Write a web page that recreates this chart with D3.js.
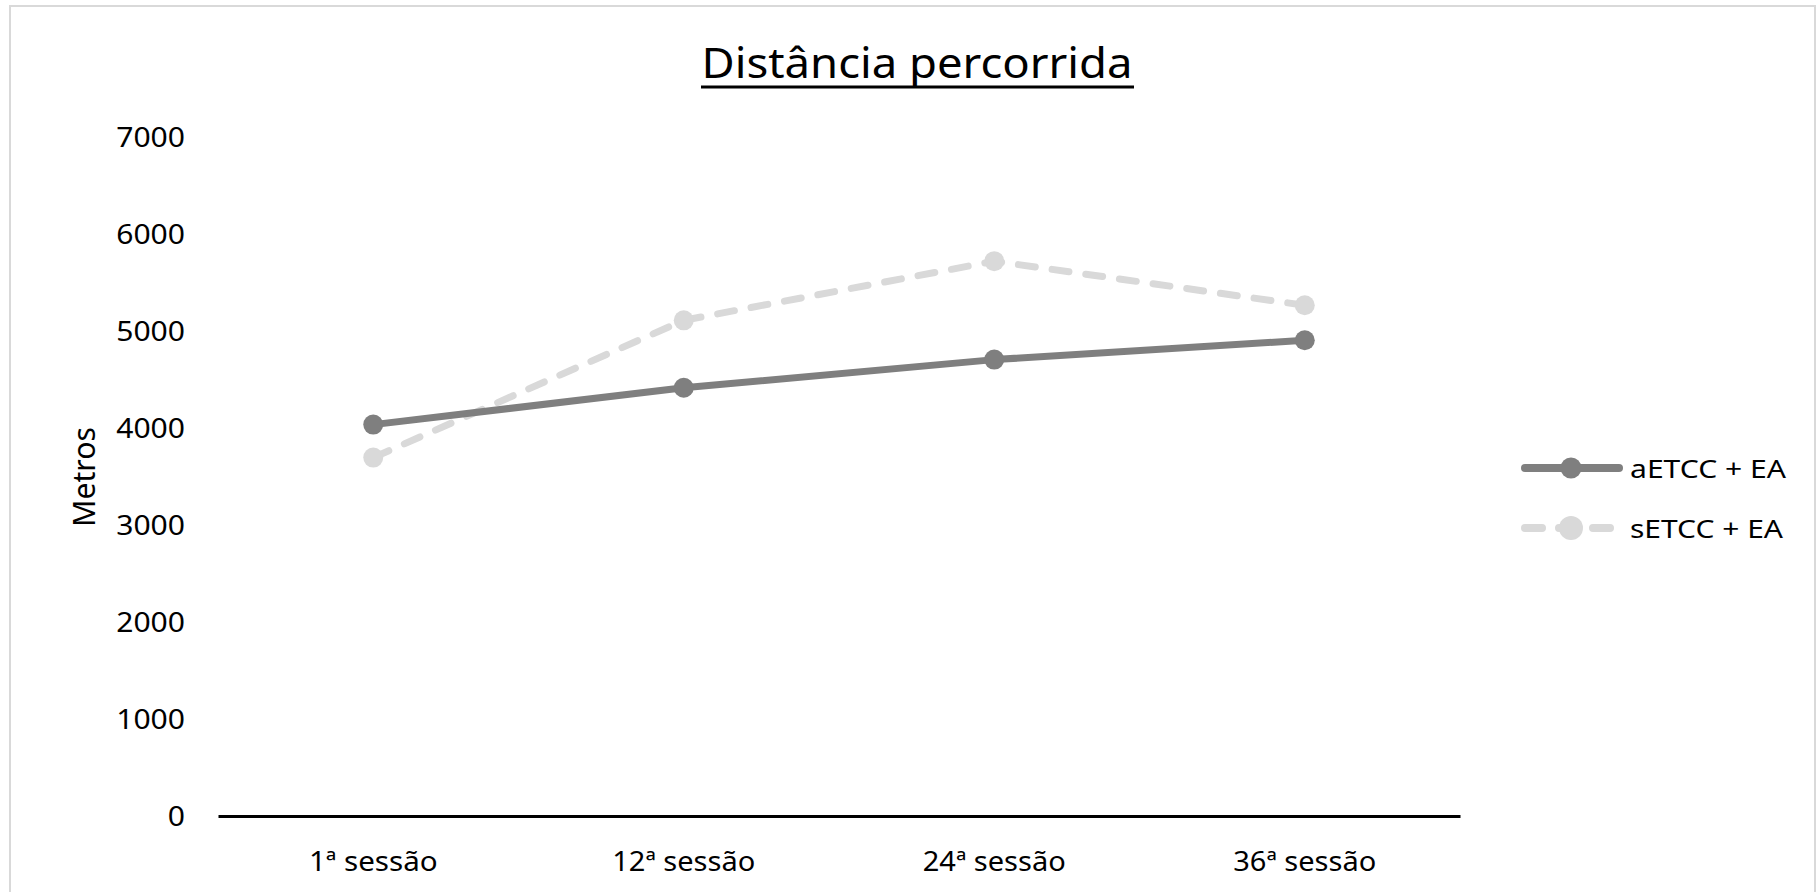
<!DOCTYPE html>
<html>
<head>
<meta charset="utf-8">
<script src="https://cdn.jsdelivr.net/npm/d3@7"></script>
<style>
  body { margin: 0; background: #fff; }
  text { font-family: "Noto Sans", "Open Sans", sans-serif; fill: #000; }
</style>
</head>
<body>
<script>
// data
const sessions = ["1ª sessão", "12ª sessão", "24ª sessão", "36ª sessão"];
const aETCC = [4035, 4415, 4705, 4905];
const sETCC = [3695, 5110, 5720, 5265];
const yTicks = [0, 1000, 2000, 3000, 4000, 5000, 6000, 7000];
const seriesNames = ["aETCC + EA", "sETCC + EA"];

const W = 1818, H = 892;
const svg = d3.select("body").append("svg")
  .attr("width", W).attr("height", H);

// chart frame
svg.append("rect")
  .attr("x", 10).attr("y", 6)
  .attr("width", 1805).attr("height", 900)
  .attr("fill", "#fff").attr("stroke", "#d9d9d9").attr("stroke-width", 2);

const x = d3.scaleBand().domain(sessions).range([218, 1460]);
const y = d3.scaleLinear().domain([0, 7000]).range([816, 137]);

// title, underlined
svg.append("text")
  .attr("x", 917).attr("y", 78)
  .attr("text-anchor", "middle")
  .attr("font-size", 42)
  .attr("textLength", 431).attr("lengthAdjust", "spacingAndGlyphs")
  .text("Distância percorrida");
svg.append("line")
  .attr("x1", 701).attr("x2", 1134).attr("y1", 87).attr("y2", 87)
  .attr("stroke", "#000").attr("stroke-width", 3);

// y axis labels (no axis line)
const yAxis = svg.append("g")
  .attr("transform", "translate(185,0)")
  .call(d3.axisLeft(y).tickValues(yTicks).tickFormat(d3.format("d")).tickSize(0).tickPadding(0));
yAxis.select(".domain").remove();
yAxis.selectAll("text")
  .attr("font-size", 27)
  .attr("font-family", "Noto Sans")
  .attr("dy", "0.36em")
  .attr("textLength", d => String(d).length * 17.2)
  .attr("lengthAdjust", "spacingAndGlyphs");

// y title
svg.append("text")
  .attr("transform", "translate(95,477) rotate(-90)")
  .attr("text-anchor", "middle")
  .attr("font-size", 30)
  .attr("textLength", 100).attr("lengthAdjust", "spacingAndGlyphs")
  .text("Metros");

// x axis
const xAxis = svg.append("g")
  .attr("transform", "translate(0,816)")
  .call(d3.axisBottom(x).tickSize(0).tickPadding(0));
xAxis.select(".domain").attr("stroke", "#000").attr("stroke-width", 3);
xAxis.selectAll("text")
  .attr("font-size", 28)
  .attr("font-family", "Noto Sans")
  .attr("y", 55).attr("dy", 0)
  .attr("textLength", d => d.length * 14.3)
  .attr("lengthAdjust", "spacingAndGlyphs");

const cx = d => x(d) + x.bandwidth() / 2;
const line = d3.line().x(d => cx(d.s)).y(d => y(d.v));

const series = [
  { name: seriesNames[0], values: aETCC, color: "#7f7f7f", dash: null },
  { name: seriesNames[1], values: sETCC, color: "#d9d9d9", dash: "17,17" }
];

// draw light dashed series first, dark on top
[series[1], series[0]].forEach(s => {
  const pts = sessions.map((sn, i) => ({ s: sn, v: s.values[i] }));
  svg.append("path")
    .datum(pts)
    .attr("d", line)
    .attr("fill", "none")
    .attr("stroke", s.color)
    .attr("stroke-width", 7)
    .attr("stroke-linecap", "round")
    .attr("stroke-linejoin", "round")
    .attr("stroke-dasharray", s.dash);
  svg.selectAll(null)
    .data(pts).enter().append("circle")
    .attr("cx", d => cx(d.s)).attr("cy", d => y(d.v))
    .attr("r", 10)
    .attr("fill", s.color);
});

// legend
const legend = svg.append("g");
series.forEach((s, i) => {
  const ly = 468 + i * 60;
  const g = legend.append("g");
  g.append("line")
    .attr("x1", 1525).attr("x2", 1619).attr("y1", ly).attr("y2", ly)
    .attr("stroke", s.color).attr("stroke-width", 8)
    .attr("stroke-linecap", "round")
    .attr("stroke-dasharray", s.dash ? "17,17" : null);
  g.append("circle")
    .attr("cx", 1571).attr("cy", ly).attr("r", i === 0 ? 10.5 : 12).attr("fill", s.color);
  g.append("text")
    .attr("x", 1630).attr("y", ly + 10)
    .attr("font-size", 26)
    .attr("textLength", i === 0 ? 156 : 153).attr("lengthAdjust", "spacingAndGlyphs")
    .text(s.name);
});
</script>
</body>
</html>
